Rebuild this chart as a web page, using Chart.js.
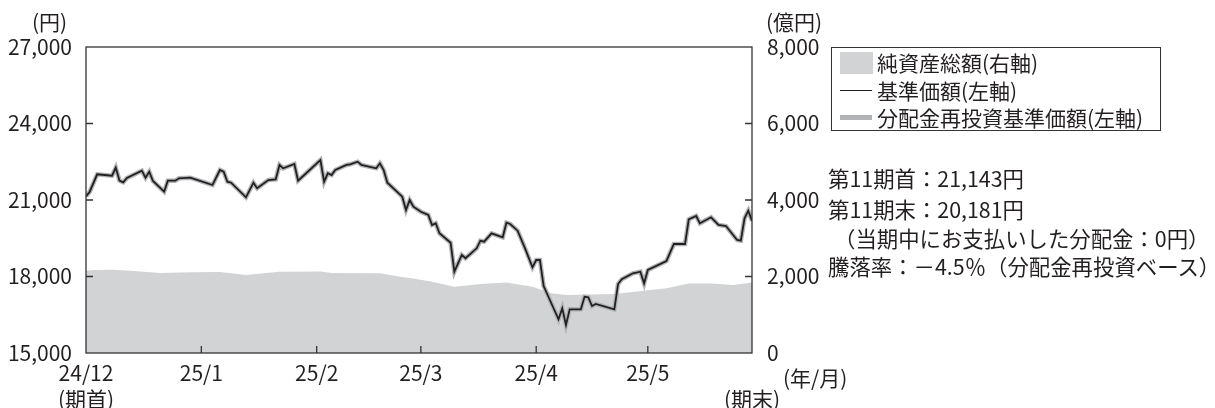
<!DOCTYPE html>
<html lang="ja">
<head>
<meta charset="utf-8">
<script src="https://cdn.jsdelivr.net/npm/chart.js@4.4.1/dist/chart.umd.min.js"></script>
<style>
body { margin: 0; background: #fff; }
#wrap { position: relative; width: 1215px; height: 408px; overflow: hidden;
        font-family: "Noto Sans CJK JP", "Noto Sans", sans-serif; color: #231f20; }
#wrap canvas { position: absolute; left: 0; top: 0; }
.t { position: absolute; font-size: 21px; line-height: 21px; white-space: nowrap; }
.n { font-size: 21.4px; line-height: 22px; }
#legend { position: absolute; left: 831px; top: 47px; width: 330px; height: 84px;
          border: 1.3px solid #333; box-sizing: border-box; background: #fff; }
.sw { position: absolute; }
</style>
</head>
<body>
<div id="wrap">
  <canvas id="chart" width="1215" height="408"></canvas>
  <div class="t" style="left:32px; top:11px;">(円)</div>
  <div class="t" style="left:766px; top:11px;">(億円)</div>
  <div class="t" style="left:783px; top:367px;">(年/月)</div>

  <div id="legend"></div>
  <div class="sw" style="left:840px; top:52px; width:33px; height:22px; background:#d1d3d4;"></div>
  <div class="sw" style="left:840px; top:90px; width:32px; height:1.4px; background:#231f20;"></div>
  <div class="sw" style="left:840px; top:115px; width:32px; height:5px; background:#b1b3b6;"></div>
  <div class="t" style="left:877px; top:52px;">純資産総額(右軸)</div>
  <div class="t" style="left:877px; top:80px;">基準価額(左軸)</div>
  <div class="t" style="left:877px; top:107px;">分配金再投資基準価額(左軸)</div>

  <div class="t n" style="left:828px; top:167px;">第11期首：21,143円</div>
  <div class="t n" style="left:828px; top:198px;">第11期末：20,181円</div>
  <div class="t n" style="left:834px; top:227px;">（当期中にお支払いした分配金：0円）</div>
  <div class="t n" style="left:828px; top:255px;">騰落率：－4.5％（分配金再投資ベース）</div>
</div>
<script>
// days counted from the start of the period (24/12 tick = day 0)
var tickDays = [0, 31, 62, 90, 121, 151, 179];
var tickLabels = [["24/12", "(期首)"], "25/1", "25/2", "25/3", "25/4", "25/5", ["", "(期末)"]];

var navDays = [0, 1, 3, 7, 8, 9, 10, 11, 15, 16,
    17, 18, 21, 22, 24, 25, 28, 34, 36, 37,
    38, 39, 43, 45, 46, 49, 51, 52, 53, 56,
    57, 63, 64, 65, 66, 67, 70, 71, 73, 74,
    78, 79, 80, 81, 85, 86, 87, 88, 90, 92,
    93, 94, 95, 98, 99, 100, 101, 102, 105, 106,
    107, 109, 112, 113, 114, 116, 118, 120, 121, 122,
    123, 127, 128, 129, 130, 133, 134, 135, 136, 137,
    142, 143, 144, 147, 149, 150, 151, 156, 158, 161,
    162, 164, 165, 168, 170, 172, 175, 176, 177, 178,
    179];

// 基準価額 (円)
var navValues = [21143, 21325, 22008, 21953, 22267, 21757, 21694, 21863, 22149, 21875,
    22110, 21745, 21325, 21757, 21757, 21851, 21875, 21588, 22177, 22110,
    21718, 21678, 21106, 21678, 21459, 21784, 21812, 22373, 22243, 22412,
    21757, 22569, 21718, 22047, 21980, 22177, 22373, 22400, 22502, 22373,
    22243, 22439, 22177, 21678, 21129, 20608, 21000, 20737, 20541, 20412,
    20020, 20086, 19694, 19325, 18188, 18518, 18843, 18714, 19106, 19404,
    19365, 19694, 19537, 20110, 20059, 19796, 19106, 18361, 18647, 18647,
    17627, 16322, 16753, 16098, 16714, 16714, 17208, 17184, 16843, 16922,
    16714, 17706, 17890, 18126, 18188, 17733, 18255, 18608, 19275, 19275,
    20243, 20373, 20086, 20322, 20020, 19980, 19431, 19404, 20282, 20580,
    20181];

// 分配金再投資基準価額: no distribution in the period, so it runs on the same values
var reinvestValues = navValues;

// 純資産総額 (億円)
var assetDays = [0, 2, 7, 12, 20, 28, 36, 43, 52, 63, 66, 79, 84, 88,
    93, 99, 106, 113, 120, 125, 129, 142, 156, 162, 168, 174, 179];
var assetValues = [2150, 2170, 2175, 2150, 2090, 2110, 2120, 2040, 2125, 2130, 2090, 2085, 2000, 1950,
    1865, 1735, 1805, 1840, 1735, 1560, 1515, 1540, 1690, 1820, 1820, 1780, 1840];

function pts(days, vals) {
    return days.map(function (d, i) { return {x: d, y: vals[i]}; });
}

var font = {family: '"Noto Sans CJK JP", "Noto Sans", sans-serif', size: 21};
var ink = '#231f20';

// frame round the plot and the short inward tick marks
var frameTicks = {
    id: 'frameTicks',
    afterDatasetsDraw: function (chart) {
        var ctx = chart.ctx, a = chart.chartArea, s = chart.scales;
        ctx.save();
        ctx.strokeStyle = '#333';
        ctx.lineWidth = 1.3;
        ctx.beginPath();
        s.y.ticks.forEach(function (t) {
            var p = s.y.getPixelForValue(t.value);
            if (p > a.top + 1 && p < a.bottom - 1) { ctx.moveTo(a.left, p); ctx.lineTo(a.left + 7, p); }
        });
        s.y2.ticks.forEach(function (t) {
            var p = s.y2.getPixelForValue(t.value);
            if (p > a.top + 1 && p < a.bottom - 1) { ctx.moveTo(a.right - 7, p); ctx.lineTo(a.right, p); }
        });
        s.x.ticks.forEach(function (t) {
            var p = s.x.getPixelForValue(t.value);
            if (p > a.left + 1 && p < a.right - 1) { ctx.moveTo(p, a.bottom - 7); ctx.lineTo(p, a.bottom); }
        });
        ctx.stroke();
        ctx.strokeRect(a.left, a.top, a.right - a.left, a.bottom - a.top);
        ctx.restore();
    }
};

new Chart(document.getElementById('chart').getContext('2d'), {
    type: 'line',
    data: {
        datasets: [{
            label: '基準価額(左軸)',
            data: pts(navDays, navValues),
            yAxisID: 'y',
            borderColor: ink,
            borderWidth: 1.8,
            pointRadius: 0,
            order: 1
        }, {
            label: '分配金再投資基準価額(左軸)',
            data: pts(navDays, reinvestValues),
            yAxisID: 'y',
            borderColor: '#b1b3b6',
            borderWidth: 4.5,
            pointRadius: 0,
            order: 2
        }, {
            label: '純資産総額(右軸)',
            data: pts(assetDays, assetValues),
            yAxisID: 'y2',
            borderWidth: 0,
            borderColor: 'rgba(0,0,0,0)',
            backgroundColor: '#d1d3d4',
            fill: 'origin',
            pointRadius: 0,
            order: 3
        }]
    },
    options: {
        responsive: false,
        animation: false,
        events: [],
        layout: {padding: {top: 47, left: 0, right: 0, bottom: 0}},
        plugins: {legend: {display: false}, tooltip: {enabled: false}},
        scales: {
            x: {
                type: 'linear',
                min: 0,
                max: 179,
                afterBuildTicks: function (s) { s.ticks = tickDays.map(function (v) { return {value: v}; }); },
                afterFit: function (s) { s.height = 55; },
                grid: {display: false, drawTicks: false},
                border: {display: false},
                ticks: {
                    autoSkip: false, maxRotation: 0, padding: 7, color: ink,
                    font: {family: font.family, size: 21, lineHeight: 1.25},
                    callback: function (v) { return tickLabels[tickDays.indexOf(v)]; }
                }
            },
            y: {
                position: 'left',
                min: 15000,
                max: 27000,
                afterFit: function (s) { s.width = 86; },
                grid: {display: false, drawTicks: false},
                border: {display: false},
                ticks: {
                    stepSize: 3000, padding: 14, color: ink, font: font,
                    callback: function (v) { return v.toLocaleString('en-US'); }
                }
            },
            y2: {
                position: 'right',
                min: 0,
                max: 8000,
                afterFit: function (s) { s.width = 463; },
                grid: {display: false, drawTicks: false},
                border: {display: false},
                ticks: {
                    stepSize: 2000, padding: 15, color: ink, font: font,
                    callback: function (v) { return v.toLocaleString('en-US'); }
                }
            }
        }
    },
    plugins: [frameTicks]
});
</script>
</body>
</html>
